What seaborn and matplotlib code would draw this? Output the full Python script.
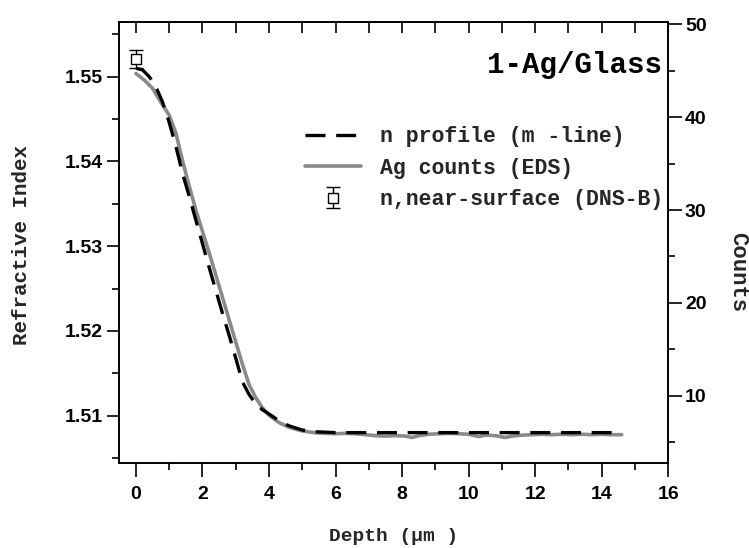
import numpy as np
import pandas as pd
import matplotlib
matplotlib.use("Agg")
import matplotlib.pyplot as plt
import seaborn as sns
from matplotlib.lines import Line2D
from matplotlib.ticker import MultipleLocator

# ---- data ----
n_depth = [0.0, 0.2, 0.4, 0.6, 0.8, 1.0, 1.2, 1.4, 1.6, 1.8, 2.0, 2.2, 2.4, 2.6, 2.8,
           3.0, 3.2, 3.4, 3.6, 3.8, 4.0, 4.3, 4.6, 5.0, 5.4, 6.0, 7.0, 8.0, 9.0, 10.0,
           11.0, 12.0, 13.0, 14.0, 14.55]
n_profile = [1.5510, 1.5508, 1.5500, 1.5488, 1.5470, 1.5446, 1.5418, 1.5386, 1.5359,
             1.5331, 1.5303, 1.5275, 1.5248, 1.5221, 1.5195, 1.5168, 1.5140, 1.5125,
             1.5114, 1.5107, 1.5102, 1.5094, 1.5088, 1.5083, 1.5081, 1.5080, 1.5080,
             1.5080, 1.5080, 1.5080, 1.5080, 1.5080, 1.5080, 1.5080, 1.5080]

ag_depth = [0.0, 0.25, 0.5, 0.75, 1.0, 1.2, 1.4, 1.6, 1.8, 2.0, 2.2, 2.4, 2.6, 2.8, 3.0,
            3.2, 3.4, 3.6, 3.8, 4.0, 4.3, 4.6, 5.0, 5.4, 5.7, 6.0, 6.3, 6.6, 6.9, 7.2,
            7.5, 7.8, 8.1, 8.3, 8.5, 8.8, 9.1, 9.4, 9.7, 10.0, 10.3, 10.5, 10.8, 11.1,
            11.3, 11.6, 11.9, 12.2, 12.5, 12.8, 13.1, 13.4, 13.7, 14.0, 14.3, 14.6]
ag_counts = [44.7, 44.0, 43.1, 41.6, 40.2, 38.3, 35.3, 32.6, 30.0, 27.7, 25.4, 23.0,
             20.6, 18.2, 15.8, 13.4, 11.2, 9.8, 8.7, 7.9, 7.1, 6.6, 6.2, 6.0, 5.95,
             5.9, 5.95, 5.9, 5.8, 5.7, 5.65, 5.7, 5.65, 5.5, 5.7, 5.85, 5.9, 5.95, 5.9,
             5.85, 5.6, 5.75, 5.7, 5.5, 5.65, 5.75, 5.8, 5.85, 5.8, 5.85, 5.8, 5.85,
             5.8, 5.85, 5.8, 5.8]

ns_depth = [0.0]
ns_index = [1.5521]
ns_err = [0.0011]

x_ticks = [0, 2, 4, 6, 8, 10, 12, 14, 16]
left_ticks = [1.51, 1.52, 1.53, 1.54, 1.55]
right_ticks = [10, 20, 30, 40, 50]

labels = ["n profile (m -line)", "Ag counts (EDS)", "n,near-surface (DNS-B)"]

# ---- figure ----
sns.set_theme(style="ticks")
plt.rcParams["font.family"] = ["Liberation Sans", "DejaVu Sans"]

fig = plt.figure(figsize=(7.49, 5.48), dpi=100)
ax = fig.add_axes([119.3 / 749, 1 - 463.3 / 548, (668.3 - 119.3) / 749, (463.3 - 22.3) / 548])
ax2 = ax.twinx()

df_n = pd.DataFrame({"depth": n_depth, "n": n_profile})
df_c = pd.DataFrame({"depth": ag_depth, "counts": ag_counts})

sns.lineplot(data=df_c, x="depth", y="counts", ax=ax2, color="#8a8a8a", lw=2.6,
             sort=False, legend=False, zorder=2)
sns.lineplot(data=df_n, x="depth", y="n", ax=ax, color="black", lw=2.4,
             sort=False, legend=False, zorder=3)
ax.lines[0].set_dashes((6.0, 3.2))
eb = ax.errorbar(ns_depth, ns_index, yerr=ns_err, fmt="s", mfc="white", mec="black",
                 ms=7, mew=1.0, ecolor="black", elinewidth=1.0, capsize=5, capthick=1.0,
                 zorder=4)

ax.set_zorder(ax2.get_zorder() + 1)
ax.patch.set_visible(False)

ax.set_xlim(-0.5, 16.0)
ax.set_ylim(1.50438, 1.55642)
ax2.set_ylim(2.72, 50.215)

ax.set_xticks(x_ticks)
ax.xaxis.set_minor_locator(MultipleLocator(1))
ax.set_yticks(left_ticks)
ax.set_yticklabels(["1.51", "1.52", "1.53", "1.54", "1.55"])
ax.yaxis.set_minor_locator(MultipleLocator(0.005))
ax2.set_yticks(right_ticks)
ax2.yaxis.set_minor_locator(MultipleLocator(5))

for lab in ax.get_xticklabels() + ax.get_yticklabels() + ax2.get_yticklabels():
    lab.set_fontfamily("Liberation Sans")
    lab.set_fontweight("bold")
    lab.set_fontsize(14)

ax.tick_params(axis="x", which="major", direction="out", length=10, width=1.2, pad=6,
               top=False, bottom=True, color="black", labelcolor="black")
ax.tick_params(axis="x", which="minor", direction="out", length=5, width=1.2,
               top=False, bottom=True, color="black")
ax.tick_params(axis="y", which="major", direction="out", length=9, width=1.2, pad=3,
               left=True, right=False, color="black", labelcolor="black")
ax.tick_params(axis="y", which="minor", direction="out", length=5, width=1.2,
               left=True, right=False, color="black")
ax2.tick_params(axis="y", which="major", direction="out", length=10, width=1.2, pad=2,
                color="black", labelcolor="black")
ax2.tick_params(axis="y", which="minor", direction="out", length=5, width=1.2,
                color="black")

secx = ax.secondary_xaxis("top")
secx.set_xticks(list(range(0, 17)))
secx.tick_params(axis="x", direction="in", length=8, width=1.2, labeltop=False,
                 color="black")
secx.xaxis.set_minor_locator(matplotlib.ticker.NullLocator())

for a in (ax, ax2):
    for s in a.spines.values():
        s.set_visible(True)
        s.set_linewidth(1.2)
        s.set_color("black")

lab_font = dict(family="Liberation Mono", weight="bold", size=14)
ax.set_xlabel("Depth (\u03bcm )", fontdict=lab_font, labelpad=18)
ax.set_ylabel("Refractive Index", fontdict=dict(family="Liberation Mono", weight="bold", size=15))
ax.yaxis.set_label_coords(-0.160, 0.495)
ax2.set_ylabel("Counts", fontdict=dict(family="Liberation Mono", weight="bold", size=16),
               rotation=270)
ax2.yaxis.set_label_coords(1.145, 0.434)

ax.text(0.9885, 0.903, "1-Ag/Glass", transform=ax.transAxes, ha="right", va="center",
        fontfamily="Liberation Mono", fontweight="bold", fontsize=21, color="black")

h1 = Line2D([], [], color="black", lw=2.4, dashes=(6.0, 3.2))
h2 = Line2D([], [], color="#8a8a8a", lw=2.6)
leg = ax.legend([h1, h2, eb], labels, loc="upper left", bbox_to_anchor=(0.338, 0.764),
                frameon=False, borderpad=0, borderaxespad=0, handlelength=2.6,
                handletextpad=0.9, labelspacing=0.48,
                prop=dict(family="Liberation Mono", weight="bold", size=15.5))

fig.savefig("out.png", dpi=100)
